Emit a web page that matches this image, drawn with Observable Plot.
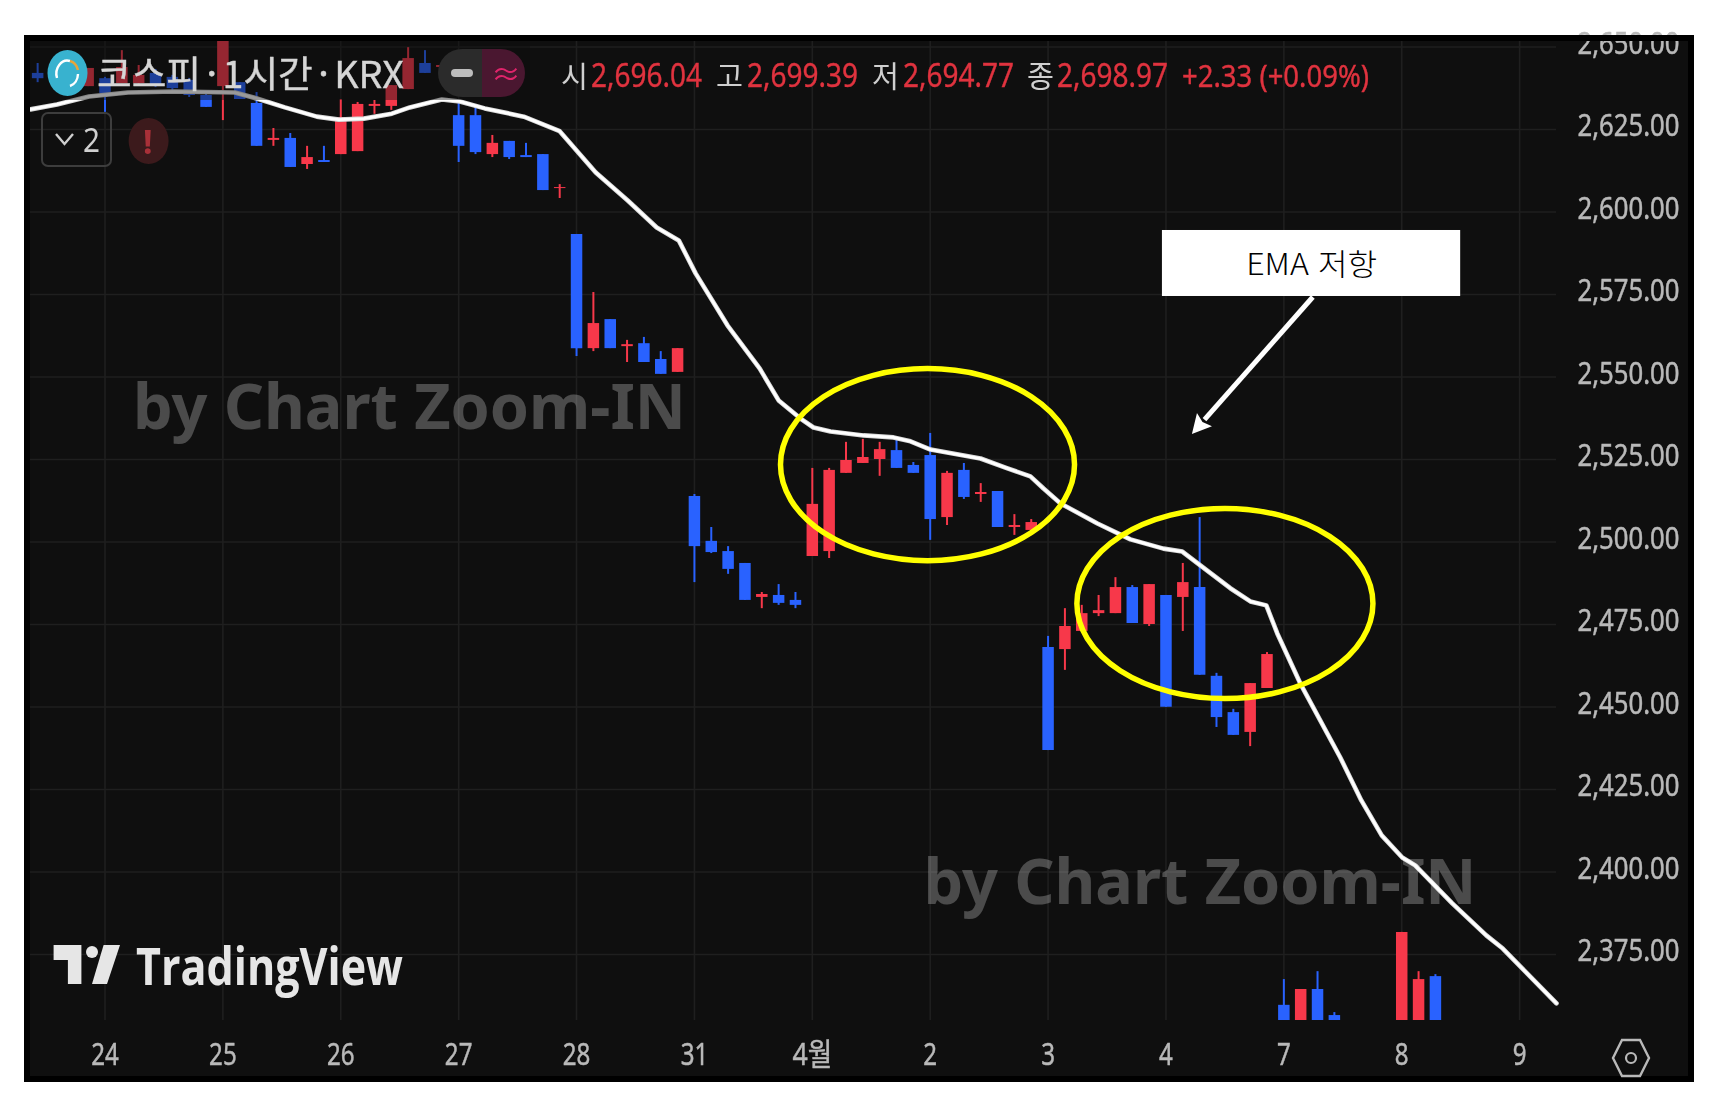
<!DOCTYPE html>
<html lang="ko">
<head>
<meta charset="utf-8">
<script src="https://cdn.jsdelivr.net/npm/d3@7"></script>
<script src="https://cdn.jsdelivr.net/npm/@observablehq/plot@0.6"></script>
<style>
html,body{margin:0;padding:0;background:#fff}
#stage{position:relative;width:1727px;height:1094px;overflow:hidden;font-family:"Noto Sans","Noto Sans CJK KR",sans-serif}
#panel{position:absolute;left:24px;top:35px;width:1670px;height:1047px;background:#0f0f0f}
#plot{position:absolute;left:0;top:0}
#plot svg{display:block}
#edge{position:absolute;left:24px;top:35px;width:1670px;height:1047px;box-sizing:border-box;border:6px solid #000}
#chrome{position:absolute;left:0;top:0}
</style>
</head>
<body>
<div id="stage"><div id="panel"></div><div id="plot"></div><div id="edge"></div></div>
<script>
// ---- data (index = hourly candle number, 7 candles per session) ----
const candleIndex = [-4,-1,0,1,2,3,4,5,6,7, 8,9,10,11,12,13,14,15,16,17, 18,19,20,21,22,23,24,25,26,27, 28,29,30,31,32,33,34,35,36,37,
  38,39,40,41,42,43,44,45,46,47, 48,49,50,51,52,53,54,55,56,57, 58,59,60,61,62,63,64,65,66,67, 68,69,70,71,72,73,77,78,79];
const candleUp = [0,1,0,1,1,0,0,0,0,1, 0,0,1,0,1,0,1,1,1,1, 1,0,1,0,0,1,0,0,0,1, 0,1,0,1,0,0,1,0,0,0,
  0,1,0,0,1,1,1,1,1,0, 0,0,1,0,1,0,1,1,0,1, 1,1,1,0,1,0,1,0,0,0, 1,1,0,1,0,0,1,1,0];
const bodyTop = [2642.0,2643.5,2640.4,2643.8,2641.4,2642.0,2640.8,2639.9,2635.3,2655.0,
  2639.2,2632.9,2622.3,2622.3,2616.5,2615.6,2628.6,2632.6,2632.6,2638.3,
  2646.5,2645.0,2644.4,2629.2,2629.2,2620.8,2621.4,2617.1,2617.4,2607.4,
  2593.2,2566.2,2567.4,2559.8,2560.1,2555.3,2558.6,2513.8,2500.2,2497.1,
  2493.5,2484.1,2483.8,2482.3,2511.4,2521.7,2524.7,2525.6,2528.0,2527.7,
  2523.2,2526.2,2520.8,2521.7,2515.0,2515.3,2505.0,2505.9,2468.0,2474.4,
  2478.3,2479.2,2486.2,2486.2,2487.1,2483.8,2487.7,2486.2,2459.3,2448.3,
  2457.1,2465.9,2359.6,2364.4,2364.4,2356.5,2381.7,2367.4,2368.3];
const bodyBottom = [2640.4,2638.0,2635.9,2638.9,2638.9,2638.3,2637.4,2635.3,2631.7,2638.0,
  2634.1,2619.9,2621.7,2613.5,2614.4,2615.0,2617.4,2618.3,2632.0,2632.0,
  2637.1,2642.0,2643.8,2619.9,2618.0,2617.4,2616.5,2616.5,2606.5,2607.1,
  2558.6,2558.6,2558.6,2559.2,2554.4,2550.8,2551.4,2498.6,2496.8,2491.7,
  2482.3,2483.2,2481.4,2480.8,2495.6,2497.1,2520.8,2523.8,2525.0,2522.3,
  2520.8,2506.8,2507.4,2513.5,2514.4,2504.4,2504.4,2503.5,2436.8,2467.4,
  2472.9,2478.3,2478.3,2475.3,2475.0,2449.9,2483.2,2459.6,2446.8,2441.4,
  2442.3,2455.6,2350,2350,2350,2350,2350,2350,2350];
const wickHigh = [2645.0,2643.5,2640.8,2648.9,2644.4,2643.2,2641.4,2640.5,2636.2,2655.0,
  2639.2,2636.2,2625.3,2623.8,2619.9,2619.9,2634.1,2633.2,2633.8,2638.3,
  2649.8,2648.9,2645.0,2633.2,2631.7,2623.2,2621.4,2620.8,2617.4,2608.3,
  2593.2,2575.6,2567.4,2561.1,2562.0,2557.7,2558.6,2514.4,2504.4,2498.6,
  2493.5,2484.7,2487.1,2484.7,2522.3,2522.3,2530.2,2531.1,2530.2,2531.4,
  2524.1,2532.9,2521.4,2523.8,2517.7,2515.3,2508.3,2506.8,2471.4,2479.8,
  2480.8,2483.8,2489.2,2486.8,2487.1,2483.8,2493.5,2507.4,2460.2,2449.3,
  2457.1,2466.5,2367.4,2364.4,2369.8,2357.4,2381.7,2369.8,2368.9];
const wickLow = [2639.2,2638.0,2630.2,2638.9,2638.3,2637.7,2636.2,2634.7,2631.7,2627.7,
  2634.1,2619.9,2619.9,2613.5,2612.9,2615.0,2617.4,2618.3,2629.6,2630.8,
  2637.1,2642.0,2641.1,2615.0,2617.4,2616.5,2615.9,2616.5,2606.5,2604.1,
  2556.2,2557.7,2558.6,2554.4,2554.4,2550.8,2551.4,2487.7,2496.5,2490.2,
  2482.3,2479.8,2480.8,2479.8,2495.6,2495.0,2520.8,2523.8,2519.9,2522.3,
  2520.8,2500.5,2505.0,2512.9,2512.0,2504.4,2502.0,2503.5,2436.8,2461.1,
  2472.9,2477.4,2478.3,2475.3,2474.4,2449.9,2472.9,2459.6,2443.8,2441.4,
  2438.0,2455.6,2350,2350,2350,2350,2350,2350,2350];

const emaIndex = [-4.42,-2.85,-0.95,1.36,4.13,7.71,9.02,10.68,12.58,13.89,15.37,17.03,18.1,20.0,21.07,22.55,24.87,27.0,
  29.14,31.04,32.76,34.07,35.07,36.97,38.87,40.0,41.3,42.07,43.08,45.04,46.82,47.83,49.02,51.99,53.59,54.95,55.73,56.74,
  58.93,60.89,62.85,63.97,65.04,66.82,68.01,68.96,69.61,70.98,73.35,74.6,75.81,77.03,77.8,80.0,82.02,83.0,86.19];
const emaValue = [2631.1,2632.6,2635.0,2636.2,2636.5,2636.2,2634.4,2631.7,2628.9,2628.0,2628.3,2629.8,2631.7,2634.1,2633.5,2631.4,2628.9,2624.5,
  2612.0,2603.5,2595.3,2591.4,2581.4,2565.6,2552.6,2542.9,2537.4,2534.7,2533.5,2532.3,2531.7,2530.5,2528.0,2525.3,2522.3,2519.9,2516.2,2511.7,
  2505.6,2500.8,2498.0,2497.1,2492.9,2486.0,2482.0,2480.8,2472.3,2457.1,2434.7,2421.7,2411.1,2404.4,2402.0,2390.5,2380.8,2376.8,2360.2];

const dayIndex = [0,7,14,21,28,35,42,49,56,63,70,77,84];
const dayLabels = ["24","25","26","27","28","31","4월","2","3","4","7","8","9"];
const priceTicks = [2375,2400,2425,2450,2475,2500,2525,2550,2575,2600,2625,2650];

const circleCx = [48.87,66.53], circleCy = [2523.3,2481.2], circleRx = [8.73,8.79], circleRy = [29.1,28.8];
const calloutText = "EMA 저항";
const watermarkText = "by Chart Zoom-IN";
const watermarkIndex = [1.66,48.6], watermarkPrice = [2534.1,2390.2];

const titleText = "코스피 · 1시간 · KRX";
const ohlcNames = ["시","고","저","종"];
const ohlcValues = ["2,696.04","2,699.39","2,694.77","2,698.97"];
const changeText = "+2.33 (+0.09%)";

// ---- colours ----
const upColor = "#f7384a", downColor = "#2962ff", labelColor = "#b9b9b9", gridColor = "#1f1f1f";

const candles = candleIndex.map((i, k) => ({
  i, color: candleUp[k] ? upColor : downColor,
  top: bodyTop[k], bottom: bodyBottom[k], high: wickHigh[k], low: wickLow[k]
}));
const ema = emaIndex.map((i, k) => ({i, v: emaValue[k]}));
const watermarks = watermarkIndex.map((i, k) => ({i, v: watermarkPrice[k]}));

function ellipses(index, scales) {
  const g = d3.create("svg:g");
  circleCx.forEach((c, k) => {
    const cx = scales.x(c), cy = scales.y(circleCy[k]);
    g.append("ellipse").attr("cx", cx).attr("cy", cy)
      .attr("rx", scales.x(c + circleRx[k]) - cx)
      .attr("ry", cy - scales.y(circleCy[k] + circleRy[k]))
      .attr("fill", "none").attr("stroke", "#ffff00").attr("stroke-width", 5.5);
  });
  return g.node();
}

// callout arrow: thick shaft with a solid head, anchored in data coordinates
const arrowFrom = {i: 71.75, v: 2574.1}, arrowTo = {i: 64.57, v: 2532.6};
function calloutArrow(index, scales) {
  const x1 = scales.x(arrowFrom.i), y1 = scales.y(arrowFrom.v);
  const x2 = scales.x(arrowTo.i), y2 = scales.y(arrowTo.v);
  const a = Math.atan2(y2 - y1, x2 - x1), L = 19, W = 10;
  const bx = x2 - L * Math.cos(a), by = y2 - L * Math.sin(a);
  const g = d3.create("svg:g");
  g.append("line").attr("x1", x1).attr("y1", y1).attr("x2", bx).attr("y2", by).attr("stroke", "#fff").attr("stroke-width", 5);
  g.append("path").attr("fill", "#fff").attr("d",
    `M${x2},${y2}L${bx - W * Math.sin(a)},${by + W * Math.cos(a)}L${bx + 3 * Math.cos(a)},${by + 3 * Math.sin(a)}L${bx + W * Math.sin(a)},${by - W * Math.cos(a)}Z`);
  return g.node();
}

const chart = Plot.plot({
  width: 1727, height: 1094,
  marginLeft: 30, marginRight: 171, marginTop: 41, marginBottom: 74,
  style: {background: "transparent", fontFamily: '"Noto Sans","Noto Sans CJK KR",sans-serif'},
  x: {domain: [-4.424, 86.19]},
  y: {domain: [2355, 2651.67]},
  color: {type: "identity"},
  marks: [
    Plot.gridX(dayIndex, {stroke: gridColor, strokeOpacity: 1, strokeWidth: 1.6}),
    Plot.gridY(priceTicks, {stroke: gridColor, strokeOpacity: 1, strokeWidth: 1.6}),
    Plot.axisX(dayIndex, {anchor: "bottom", tickSize: 0, tickPadding: 22, fontSize: 31, color: labelColor, label: null,
      tickFormat: d => dayLabels[dayIndex.indexOf(d)]}),
    Plot.axisY(priceTicks, {anchor: "right", tickSize: 0, tickPadding: 21, fontSize: 31, color: labelColor, label: null, dy: -3,
      tickFormat: d => d3.format(",.2f")(d)}),
    Plot.ruleX(candles, {x: "i", y1: "low", y2: "high", stroke: "color", strokeWidth: 2, clip: true}),
    Plot.ruleX(candles, {x: "i", y1: "bottom", y2: "top", stroke: "color", strokeWidth: 11.5, clip: true}),
    Plot.line(ema, {x: "i", y: "v", stroke: "#d9d9d9", strokeWidth: 4.6, curve: "linear"}),
    Plot.line(ema, {x: "i", y: "v", stroke: "#ffffff", strokeWidth: 2.8, curve: "linear"}),
    Plot.text(watermarks, {x: "i", y: "v", text: () => watermarkText, textAnchor: "start", lineAnchor: "bottom",
      fontSize: 62, fontWeight: 700, fill: "#ffffff", fillOpacity: 0.25, className: "wm"}),
    Plot.rect([0], {x1: () => 62.79, x2: () => 80.50, y1: () => 2574.4, y2: () => 2594.4, fill: "#ffffff"}),
    Plot.text([calloutText], {x: () => 71.65, y: () => 2583.8, text: d => d, fill: "#000000", fontSize: 30, fontWeight: 300,
      fontFamily: '"Noto Sans CJK KR",sans-serif', className: "callout"}),
    calloutArrow,
    ellipses
  ]
});
document.getElementById("plot").appendChild(chart);

// tick labels are narrow in the reference: fit them to the measured width
function narrow(s, d, p, h) {
  return [...s].reduce((t, c) => t + (/[0-9]/.test(c) ? d : /[,.]/.test(c) ? p : h), 0);
}
d3.select(chart).selectAll('[aria-label="y-axis tick label"] text').each(function () {
  d3.select(this).attr("textLength", narrow(this.textContent, 14.5, 7.5, 26)).attr("lengthAdjust", "spacingAndGlyphs")
    .attr("stroke", labelColor).attr("stroke-width", 0.5);
});
d3.select(chart).selectAll('[aria-label="x-axis tick label"] text').each(function () {
  d3.select(this).attr("textLength", narrow(this.textContent, 13.8, 7, 26)).attr("lengthAdjust", "spacingAndGlyphs")
    .attr("stroke", labelColor).attr("stroke-width", 0.5);
});
d3.select(chart).selectAll('.wm text').attr("textLength", 553).attr("lengthAdjust", "spacingAndGlyphs");
d3.select(chart).selectAll('.callout text').attr("textLength", 131).attr("lengthAdjust", "spacingAndGlyphs");
d3.select(chart).selectAll('[aria-label^="y-axis"],[aria-label^="x-axis"]').style("filter", "blur(0.5px)");

// ---- TradingView chrome over the chart ----
const ui = d3.select("#stage").append("svg").attr("id", "chrome").attr("width", 1727).attr("height", 1094);
const chromeG = ui.append("g");
chromeG.append("rect").attr("x", 30).attr("y", 41).attr("width", 500).attr("height", 59).attr("fill", "#0f0f0f").attr("opacity", 0.42);
const ug = chromeG.append("g").style("filter", "blur(0.6px)");
const label = (txt, x, y, size, len, fill, extra = {}) => {
  const t = ug.append("text").attr("font-size", size).attr("fill", fill)
    .attr("font-family", extra.family || '"Noto Sans CJK KR","Noto Sans",sans-serif').attr("font-weight", extra.weight || 400)
    .style("word-spacing", extra.wordSpacing || null)
    .attr("stroke", extra.stroke ? fill : null).attr("stroke-width", extra.stroke || null)
    .text(txt);
  const natural = t.node().getComputedTextLength();
  t.attr("transform", `translate(${x},${y}) scale(${len ? len / natural : 1},1)`);
  return t;
};
// logo
ug.append("ellipse").attr("cx", 67.5).attr("cy", 73).attr("rx", 20).attr("ry", 23).attr("fill", "#38b2cf");
ug.append("path").attr("d", "M57 78 A11 13 0 0 1 70 61").attr("fill", "none").attr("stroke", "#fff").attr("stroke-width", 2.4);
ug.append("path").attr("d", "M70 61 A11 13 0 0 1 78 70").attr("fill", "none").attr("stroke", "#e9a53a").attr("stroke-width", 2.4);
ug.append("path").attr("d", "M78 74 A11 13 0 0 1 70 86").attr("fill", "none").attr("stroke", "#fff").attr("stroke-width", 2.4);
label(titleText, 97, 88, 37, 307, "#d6d6d6", {wordSpacing: "-5px", stroke: 0.4});
// status pills
ug.append("path").attr("d", "M482 49 H462 A24 24 0 0 0 462 97 H482 Z").attr("fill", "#2b2b2b");
ug.append("path").attr("d", "M482 49 H501 A24 24 0 0 1 501 97 H482 Z").attr("fill", "#4a1730");
ug.append("rect").attr("x", 451).attr("y", 69).attr("width", 22).attr("height", 8).attr("rx", 4).attr("fill", "#bdbdbd");
label("≈", 491, 85, 30, null, "#e0246b");
// OHLC read-out
const nameX = [561, 716, 872, 1027], valueX = [591, 747, 903, 1057];
ohlcNames.forEach((n, k) => {
  label(n, nameX[k], 87, 30, 27, "#cfcfcf");
  label(ohlcValues[k], valueX[k], 87, 32, 111, "#e0333f", {family: '"Noto Sans",sans-serif', stroke: 0.4});
});
label(changeText, 1182, 87, 30, 187, "#e0333f", {family: '"Noto Sans",sans-serif', stroke: 0.4});
// collapse button and warning
ug.append("rect").attr("x", 42).attr("y", 113).attr("width", 69).attr("height", 53).attr("rx", 6).attr("fill", "none").attr("stroke", "#3d3d3d").attr("stroke-width", 2);
ug.append("path").attr("d", "M56 134 L64.5 144 L73 134").attr("fill", "none").attr("stroke", "#cfcfcf").attr("stroke-width", 2.4);
label("2", 83, 152, 33, 17, "#cfcfcf", {family: '"Noto Sans",sans-serif'});
ug.append("ellipse").attr("cx", 148.6).attr("cy", 141).attr("rx", 20).attr("ry", 23).attr("fill", "#3c1a1c");
label("!", 143, 154, 34, null, "#a83038", {family: '"Noto Sans",sans-serif', weight: 700});
// TradingView mark
ug.append("path").attr("d", "M53.6 945 H81.4 V984 H67.9 V960 H53.6 Z").attr("fill", "#e6e6e6");
ug.append("circle").attr("cx", 92).attr("cy", 952).attr("r", 6).attr("fill", "#e6e6e6");
ug.append("path").attr("d", "M103.6 945 H120 L107 984 H92 Z").attr("fill", "#e6e6e6");
label("TradingView", 136, 985, 52, 267, "#e6e6e6", {family: '"Open Sans",sans-serif', weight: 700});
// settings hexagon
ug.append("path").attr("d", "M1613 1058 L1622 1040 H1640 L1649 1058 L1640 1076 H1622 Z").attr("fill", "none").attr("stroke", "#b9b9b9").attr("stroke-width", 2.4);
ug.append("circle").attr("cx", 1631).attr("cy", 1058).attr("r", 5).attr("fill", "none").attr("stroke", "#b9b9b9").attr("stroke-width", 2.2);
</script>
</body>
</html>
